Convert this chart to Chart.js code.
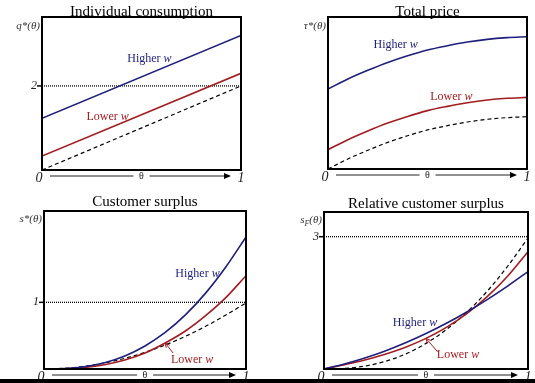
<!DOCTYPE html>
<html>
<head>
<meta charset="utf-8">
<script src="https://cdn.jsdelivr.net/npm/chart.js@4"></script>
<style>
  html, body { margin: 0; padding: 0; background: #fff; }
  #wrap { position: relative; width: 535px; height: 383px; overflow: hidden; background: #fff; }
  #wrap canvas { position: absolute; left: 0; top: 0; }
  #baseBar { position: absolute; left: 0; top: 379px; width: 535px; height: 4px; background: #000; }
</style>
</head>
<body>
<div id="wrap">
  <canvas id="cQ" width="535" height="383"></canvas>
  <canvas id="cTau" width="535" height="383"></canvas>
  <canvas id="cS" width="535" height="383"></canvas>
  <canvas id="cSF" width="535" height="383"></canvas>
  <div id="baseBar"></div>
</div>
<script>
// ---- values ----
const theta = [0, 0.1, 0.2, 0.3, 0.4, 0.5, 0.6, 0.7, 0.8, 0.9, 1];
const thetaEnds = [0, 1];
const xEndLabels = ['0', '1'];
const xAxisName = 'θ';

// Individual consumption q*(θ)
const qHigher = [1.23, 3.20];
const qLower = [0.33, 2.30];
const qBase = [0, 2];
const qRef = 2;
const qRefLabel = '2';

// Total price τ*(θ)
const tauHigher = [0.526, 0.592, 0.649, 0.701, 0.745, 0.783, 0.811, 0.835, 0.853, 0.864, 0.870];
const tauLower = [0.127, 0.193, 0.250, 0.302, 0.346, 0.384, 0.412, 0.436, 0.454, 0.465, 0.471];
const tauBase = [0, 0.066, 0.123, 0.175, 0.219, 0.257, 0.285, 0.309, 0.327, 0.338, 0.344];

// Customer surplus s*(θ)
const sHigher = [0, 0.006, 0.034, 0.095, 0.196, 0.346, 0.548, 0.811, 1.138, 1.53, 1.98];
const sLower = [0, 0.004, 0.024, 0.065, 0.135, 0.24, 0.39, 0.57, 0.80, 1.07, 1.40];
const sBase = [0, 0.01, 0.04, 0.09, 0.16, 0.25, 0.36, 0.49, 0.64, 0.81, 0.99];
const sRef = 1;
const sRefLabel = '1';

// Relative customer surplus s_F(θ)
const sfHigher = [0, 0.112, 0.248, 0.409, 0.594, 0.803, 1.036, 1.293, 1.574, 1.88, 2.21];
const sfLower = [0, 0.098, 0.206, 0.335, 0.494, 0.694, 0.944, 1.256, 1.64, 2.105, 2.66];
const sfBase = [0, 0.013, 0.066, 0.173, 0.34, 0.581, 0.895, 1.288, 1.763, 2.33, 2.97];
const sfRef = 3;
const sfRefLabel = '3';

// ---- styles ----
const BLUE = '#1e1e7c';
const RED = '#a21c20';
const SERIF = '"Liberation Serif", "Times New Roman", serif';

const pairs = (xs, ys) => xs.map((x, i) => ({ x, y: ys[i] }));

function curve(xs, ys, color, dashed) {
  return {
    data: pairs(xs, ys),
    borderColor: color,
    borderWidth: dashed ? 1.2 : 1.6,
    borderDash: dashed ? [4, 3] : [],
    pointRadius: 0,
    cubicInterpolationMode: 'monotone',
    fill: false
  };
}

function refLine(value) {
  return {
    data: [{ x: 0, y: value }, { x: 1, y: value }],
    borderColor: '#000',
    borderWidth: 1.3,
    borderDash: [1, 1],
    pointRadius: 0,
    fill: false
  };
}

// draws a run of text pieces (regular / italic / subscript) starting at x
function drawRuns(ctx, runs, x, y, size) {
  let cx = x;
  ctx.textAlign = 'left';
  runs.forEach(r => {
    const fs = r.sub ? size * 0.72 : size;
    ctx.font = (r.italic ? 'italic ' : '') + fs + 'px ' + SERIF;
    ctx.fillText(r.t, cx, r.sub ? y + size * 0.25 : y);
    cx += ctx.measureText(r.t).width;
  });
}
function runsWidth(ctx, runs, size) {
  let w = 0;
  runs.forEach(r => {
    const fs = r.sub ? size * 0.72 : size;
    ctx.font = (r.italic ? 'italic ' : '') + fs + 'px ' + SERIF;
    w += ctx.measureText(r.t).width;
  });
  return w;
}

const panelDecor = {
  id: 'panelDecor',
  afterDraw(chart, args, o) {
    const ctx = chart.ctx;
    const a = chart.chartArea;
    const xs = chart.scales.x, ys = chart.scales.y;
    ctx.save();
    ctx.textBaseline = 'alphabetic';

    // frame
    ctx.strokeStyle = '#000';
    ctx.lineWidth = 2;
    ctx.setLineDash([]);
    ctx.strokeRect(a.left, a.top, a.right - a.left, a.bottom - a.top);

    // title
    ctx.fillStyle = '#000';
    ctx.textAlign = 'center';
    ctx.font = '15px ' + SERIF;
    ctx.fillText(o.title, (a.left + a.right) / 2, a.top + o.titleOffset);

    // vertical axis name
    ctx.fillStyle = '#333';
    const nw = runsWidth(ctx, o.yName, 11);
    drawRuns(ctx, o.yName, a.left - 2 - nw, a.top + o.yNameOffset, 11);

    // reference tick
    if (o.refValue !== undefined) {
      const py = ys.getPixelForValue(o.refValue);
      ctx.strokeStyle = '#000';
      ctx.lineWidth = 1.5;
      ctx.beginPath();
      ctx.moveTo(a.left - 5, py);
      ctx.lineTo(a.left, py);
      ctx.stroke();
      ctx.fillStyle = '#222';
      ctx.font = 'italic 12px ' + SERIF;
      ctx.textAlign = 'right';
      ctx.textBaseline = 'middle';
      ctx.fillText(o.refLabel, a.left - 5, py);
      ctx.textBaseline = 'alphabetic';
    }

    // horizontal axis: end labels, arrow and name
    const x0 = xs.getPixelForValue(0), x1 = xs.getPixelForValue(1);
    const ay = a.bottom + 6;
    ctx.fillStyle = '#222';
    ctx.font = 'italic 14px ' + SERIF;
    ctx.textAlign = 'center';
    ctx.textBaseline = 'middle';
    ctx.fillText(xEndLabels[0], x0 - 3, a.bottom + 8);
    ctx.fillText(xEndLabels[1], x1, a.bottom + 8);
    const cx = (x0 + x1) / 2;
    ctx.font = '10px ' + SERIF;
    ctx.fillText(xAxisName, cx, ay);
    ctx.strokeStyle = '#222';
    ctx.lineWidth = 1.2;
    ctx.beginPath();
    ctx.moveTo(x0 + 8, ay);
    ctx.lineTo(cx - 8, ay);
    ctx.moveTo(cx + 8, ay);
    ctx.lineTo(x1 - 15, ay);
    ctx.stroke();
    ctx.fillStyle = '#000';
    ctx.beginPath();
    ctx.moveTo(x1 - 10, ay);
    ctx.lineTo(x1 - 17, ay - 3);
    ctx.lineTo(x1 - 17, ay + 3);
    ctx.closePath();
    ctx.fill();
    ctx.textBaseline = 'alphabetic';

    // curve labels
    (o.notes || []).forEach(n => {
      ctx.fillStyle = n.color;
      const w = runsWidth(ctx, n.runs, 12);
      const px = xs.getPixelForValue(n.x), py = ys.getPixelForValue(n.y);
      drawRuns(ctx, n.runs, px - w / 2, py, 12);
      if (n.arrow) {
        const fx = xs.getPixelForValue(n.arrow.from.x), fy = ys.getPixelForValue(n.arrow.from.y);
        const tx = xs.getPixelForValue(n.arrow.to.x), ty = ys.getPixelForValue(n.arrow.to.y);
        ctx.strokeStyle = n.color;
        ctx.lineWidth = 1;
        ctx.beginPath();
        ctx.moveTo(fx, fy);
        ctx.lineTo(tx, ty);
        const ang = Math.atan2(ty - fy, tx - fx);
        ctx.moveTo(tx - 5 * Math.cos(ang - 0.45), ty - 5 * Math.sin(ang - 0.45));
        ctx.lineTo(tx, ty);
        ctx.lineTo(tx - 5 * Math.cos(ang + 0.45), ty - 5 * Math.sin(ang + 0.45));
        ctx.stroke();
      }
    });
    ctx.restore();
  }
};

const higher = [{ t: 'Higher ' }, { t: 'w', italic: true }];
const lower = [{ t: 'Lower ' }, { t: 'w', italic: true }];

function makePanel(id, area, yMax, datasets, decor) {
  return new Chart(document.getElementById(id), {
    type: 'line',
    data: { datasets },
    options: {
      responsive: false,
      animation: false,
      devicePixelRatio: 1,
      events: [],
      layout: {
        padding: { left: area.left, top: area.top, right: 535 - area.right, bottom: 383 - area.bottom }
      },
      scales: {
        x: { type: 'linear', min: 0, max: 1, display: false },
        y: { type: 'linear', min: 0, max: yMax, display: false }
      },
      plugins: {
        legend: { display: false },
        tooltip: { enabled: false },
        panelDecor: decor
      }
    },
    plugins: [panelDecor]
  });
}

makePanel('cQ', { left: 42, top: 17, right: 241, bottom: 170 }, 3.64, [
  curve(thetaEnds, qHigher, BLUE, false),
  curve(thetaEnds, qLower, RED, false),
  curve(thetaEnds, qBase, '#000', true),
  refLine(qRef)
], {
  title: 'Individual consumption', titleOffset: -1,
  yName: [{ t: 'q*(θ)', italic: true }], yNameOffset: 12,
  refValue: qRef, refLabel: qRefLabel,
  notes: [
    { runs: higher, color: BLUE, x: 0.54, y: 2.57 },
    { runs: lower, color: RED, x: 0.33, y: 1.19 }
  ]
});

makePanel('cTau', { left: 328, top: 17, right: 527, bottom: 169 }, 1, [
  curve(theta, tauHigher, BLUE, false),
  curve(theta, tauLower, RED, false),
  curve(theta, tauBase, '#000', true)
], {
  title: 'Total price', titleOffset: -1,
  yName: [{ t: 'τ*(θ)', italic: true }], yNameOffset: 12,
  notes: [
    { runs: higher, color: BLUE, x: 0.34, y: 0.794 },
    { runs: lower, color: RED, x: 0.62, y: 0.454 }
  ]
});

makePanel('cS', { left: 44, top: 211, right: 246, bottom: 369 }, 2.37, [
  curve(theta, sHigher, BLUE, false),
  curve(theta, sLower, RED, false),
  curve(theta, sBase, '#000', true),
  refLine(sRef)
], {
  title: 'Customer surplus', titleOffset: -5,
  yName: [{ t: 's*(θ)', italic: true }], yNameOffset: 11,
  refValue: sRef, refLabel: sRefLabel,
  notes: [
    { runs: higher, color: BLUE, x: 0.76, y: 1.38 },
    { runs: lower, color: RED, x: 0.733, y: 0.094,
      arrow: { from: { x: 0.639, y: 0.24 }, to: { x: theta[6], y: sLower[6] } } }
  ]
});

makePanel('cSF', { left: 324, top: 212, right: 528, bottom: 369 }, 3.56, [
  curve(theta, sfHigher, BLUE, false),
  curve(theta, sfLower, RED, false),
  curve(theta, sfBase, '#000', true),
  refLine(sfRef)
], {
  title: 'Relative customer surplus', titleOffset: -4,
  yName: [{ t: 's', italic: true }, { t: 'F', italic: true, sub: true }, { t: '(θ)', italic: true }], yNameOffset: 11,
  refValue: sfRef, refLabel: sfRefLabel,
  notes: [
    { runs: higher, color: BLUE, x: 0.446, y: 0.975 },
    { runs: lower, color: RED, x: 0.657, y: 0.243,
      arrow: { from: { x: 0.557, y: 0.39 }, to: { x: theta[5], y: sfLower[5] } } }
  ]
});
</script>
</body>
</html>
